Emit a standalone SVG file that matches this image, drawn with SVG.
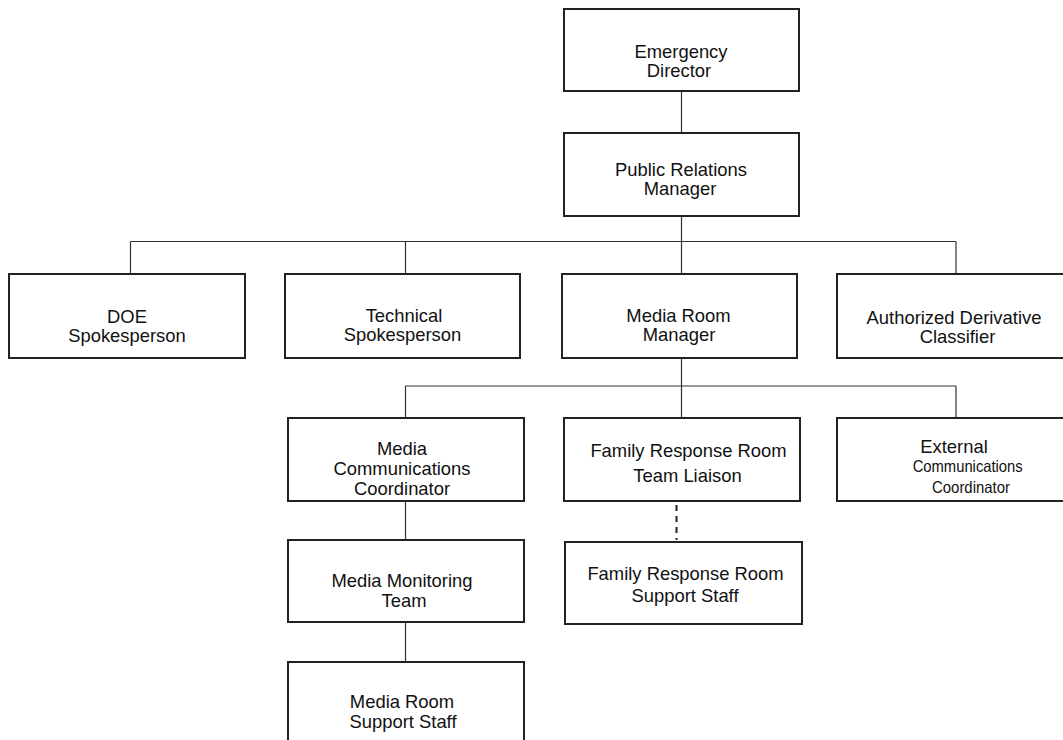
<svg xmlns="http://www.w3.org/2000/svg" width="1063" height="740" viewBox="0 0 1063 740">
<style>
.box{fill:#fff;stroke:#222;stroke-width:2}
.t{font-family:"Liberation Sans",Arial,sans-serif;font-size:18.4px;fill:#111;text-anchor:middle}
.s{font-size:16.5px}
.c{fill:none;stroke:#333;stroke-width:1.2}
.d{fill:none;stroke:#222;stroke-width:2;stroke-dasharray:6,5}
</style>
<rect width="1063" height="740" fill="#fff"/>
<g id="connectors">
<path class="c" d="M681.5,91V133M681.5,216V241.5M130.5,241.5H956M130.5,241.5V274M405.5,241.5V274M681.5,241.5V274M956,241.5V274"/>
<path class="c" d="M681.5,358V386M405.5,386H956M405.5,386V418M681.5,386V418M956,386V418"/>
<path class="c" d="M405.5,501V540M405.5,622V662"/>
<path class="d" d="M676.5,505V540"/>
</g>
<g id="emergency-director"><rect class="box" x="564" y="9" width="235" height="82"/>
<text class="t" x="681" y="58">Emergency</text><text class="t" x="679" y="77">Director</text></g>
<g id="public-relations-manager"><rect class="box" x="564" y="133" width="235" height="83"/>
<text class="t" x="681" y="176">Public Relations</text><text class="t" x="680" y="195">Manager</text></g>
<g id="doe-spokesperson"><rect class="box" x="9" y="274" width="236" height="84"/>
<text class="t" x="127" y="323">DOE</text><text class="t" x="127" y="342">Spokesperson</text></g>
<g id="technical-spokesperson"><rect class="box" x="285" y="274" width="235" height="84"/>
<text class="t" x="404" y="322">Technical</text><text class="t" x="402.5" y="341">Spokesperson</text></g>
<g id="media-room-manager"><rect class="box" x="562" y="274" width="235" height="84"/>
<text class="t" x="678.5" y="322">Media Room</text><text class="t" x="679" y="341">Manager</text></g>
<g id="authorized-derivative-classifier"><rect class="box" x="837" y="274" width="236" height="84"/>
<text class="t" x="954" y="324">Authorized Derivative</text><text class="t" x="957.5" y="343">Classifier</text></g>
<g id="media-communications-coordinator"><rect class="box" x="288" y="418" width="236" height="83"/>
<text class="t" x="402" y="455">Media</text><text class="t" x="402" y="474.5">Communications</text><text class="t" x="402" y="495">Coordinator</text></g>
<g id="family-response-room-team-liaison"><rect class="box" x="564" y="418" width="236" height="83"/>
<text class="t" x="688.5" y="457">Family Response Room</text><text class="t" x="687.5" y="482">Team Liaison</text></g>
<g id="external-communications-coordinator"><rect class="box" x="837" y="418" width="236" height="83"/>
<text class="t" x="954" y="453">External</text>
<text class="t s" x="967.7" y="472" textLength="110" lengthAdjust="spacingAndGlyphs">Communications</text>
<text class="t s" x="971" y="493" textLength="78" lengthAdjust="spacingAndGlyphs">Coordinator</text></g>
<g id="media-monitoring-team"><rect class="box" x="288" y="540" width="236" height="82"/>
<text class="t" x="402" y="587">Media Monitoring</text><text class="t" x="404" y="607">Team</text></g>
<g id="family-response-room-support-staff"><rect class="box" x="565" y="542" width="237" height="82"/>
<text class="t" x="685.5" y="580">Family Response Room</text><text class="t" x="685" y="602">Support Staff</text></g>
<g id="media-room-support-staff"><rect class="box" x="288" y="662" width="236" height="90"/>
<text class="t" x="402" y="708">Media Room</text><text class="t" x="403" y="728">Support Staff</text></g>
</svg>
